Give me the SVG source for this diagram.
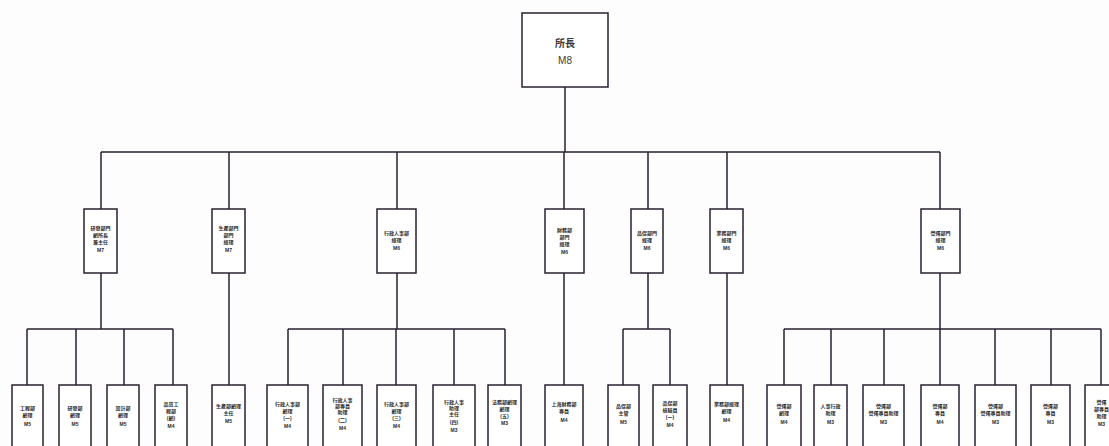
<svg xmlns="http://www.w3.org/2000/svg" width="1109" height="446" viewBox="0 0 1109 446">
<style>
.bx{fill:#fff;stroke:#2a2030;stroke-width:1.5}
.ln{stroke:#2a2030;stroke-width:1.5;fill:none}
.t{font-family:"Liberation Sans","Noto Sans CJK TC",sans-serif;font-size:5px;font-weight:bold;fill:#2a2a2a;text-anchor:middle}
.tt{font-family:"Liberation Sans","Noto Sans CJK TC",sans-serif;font-size:10px;fill:#3a3a3a;text-anchor:middle}
</style>
<rect width="1109" height="446" fill="#fdfdfd"/>
<g id="connectors" class="ln">
<path d="M565,87V152M101,152H940M101,152V209M229,152V209M397,152V209M564,152V209M648,152V209M727,152V209M940,152V209"/>
<path d="M101,273V329M27,329H173M27,329V385M76,329V385M124,329V385M173,329V385"/>
<path d="M229,273V385"/>
<path d="M397,273V329M288,329H505M288,329V385M343,329V385M396,329V385M454,329V385M505,329V385"/>
<path d="M564,273V385"/>
<path d="M648,273V329M623,329H670M623,329V385M670,329V385"/>
<path d="M727,273V385"/>
<path d="M940,273V329M784,329H1101M784,329V385M831,329V385M884,329V385M940,329V385M995,329V385M1051,329V385M1101,329V385"/>
</g>
<g id="n0"><rect class="bx" x="522" y="13" width="86" height="74"/><text class="tt" x="565" y="47" font-weight="bold">所長</text><text class="tt" x="565" y="64">M8</text></g>
<g id="n1"><rect class="bx" x="84" y="209" width="33" height="64"/><text class="t" x="100.5" y="230"><tspan x="100.5">研發部門</tspan><tspan x="100.5" dy="7">副所長</tspan><tspan x="100.5" dy="7">兼主任</tspan><tspan x="100.5" dy="8">M7</tspan></text></g>
<g id="n2"><rect class="bx" x="212" y="209" width="33" height="64"/><text class="t" x="228.5" y="230"><tspan x="228.5">生產部門</tspan><tspan x="228.5" dy="7">部門</tspan><tspan x="228.5" dy="7">經理</tspan><tspan x="228.5" dy="8">M7</tspan></text></g>
<g id="n3"><rect class="bx" x="377" y="209" width="39" height="64"/><text class="t" x="396.5" y="235"><tspan x="396.5">行政人事部</tspan><tspan x="396.5" dy="7">經理</tspan><tspan x="396.5" dy="8">M6</tspan></text></g>
<g id="n4"><rect class="bx" x="545" y="209" width="39" height="64"/><text class="t" x="564.5" y="232"><tspan x="564.5">財務部</tspan><tspan x="564.5" dy="7">部門</tspan><tspan x="564.5" dy="7">經理</tspan><tspan x="564.5" dy="8">M6</tspan></text></g>
<g id="n5"><rect class="bx" x="631" y="209" width="32" height="64"/><text class="t" x="647" y="235"><tspan x="647">品保部門</tspan><tspan x="647" dy="7">經理</tspan><tspan x="647" dy="8">M6</tspan></text></g>
<g id="n6"><rect class="bx" x="710" y="209" width="33" height="64"/><text class="t" x="726.5" y="235"><tspan x="726.5">業務部門</tspan><tspan x="726.5" dy="7">經理</tspan><tspan x="726.5" dy="8">M6</tspan></text></g>
<g id="n7"><rect class="bx" x="921" y="209" width="39" height="64"/><text class="t" x="940.5" y="235"><tspan x="940.5">營運部門</tspan><tspan x="940.5" dy="7">經理</tspan><tspan x="940.5" dy="8">M6</tspan></text></g>
<g id="c1"><rect class="bx" x="12" y="385" width="31" height="75"/><text class="t" x="27.5" y="410"><tspan x="27.5">工程部</tspan><tspan x="27.5" dy="7">副理</tspan><tspan x="27.5" dy="9">M5</tspan></text></g>
<g id="c2"><rect class="bx" x="59" y="385" width="32" height="75"/><text class="t" x="75" y="410"><tspan x="75">研發部</tspan><tspan x="75" dy="7">副理</tspan><tspan x="75" dy="9">M5</tspan></text></g>
<g id="c3"><rect class="bx" x="107" y="385" width="32" height="75"/><text class="t" x="123" y="410"><tspan x="123">設計部</tspan><tspan x="123" dy="7">副理</tspan><tspan x="123" dy="9">M5</tspan></text></g>
<g id="c4"><rect class="bx" x="155" y="385" width="32" height="75"/><text class="t" x="171" y="406"><tspan x="171">品質工</tspan><tspan x="171" dy="7">程部</tspan><tspan x="171" dy="7">(副)</tspan><tspan x="171" dy="8">M4</tspan></text></g>
<g id="c5"><rect class="bx" x="212" y="385" width="33" height="75"/><text class="t" x="228.5" y="408"><tspan x="228.5">生產部副理</tspan><tspan x="228.5" dy="7">主任</tspan><tspan x="228.5" dy="8">M5</tspan></text></g>
<g id="c6"><rect class="bx" x="267" y="385" width="41" height="75"/><text class="t" x="287.5" y="406"><tspan x="287.5">行政人事部</tspan><tspan x="287.5" dy="7">副理</tspan><tspan x="287.5" dy="7">(一)</tspan><tspan x="287.5" dy="8">M4</tspan></text></g>
<g id="c7"><rect class="bx" x="323" y="385" width="39" height="75"/><text class="t" x="342.5" y="402"><tspan x="342.5">行政人事</tspan><tspan x="342.5" dy="6">部專員</tspan><tspan x="342.5" dy="6">助理</tspan><tspan x="342.5" dy="8">(二)</tspan><tspan x="342.5" dy="8">M4</tspan></text></g>
<g id="c8"><rect class="bx" x="377" y="385" width="39" height="75"/><text class="t" x="396.5" y="406"><tspan x="396.5">行政人事部</tspan><tspan x="396.5" dy="7">副理</tspan><tspan x="396.5" dy="7">(三)</tspan><tspan x="396.5" dy="8">M4</tspan></text></g>
<g id="c9"><rect class="bx" x="433" y="385" width="42" height="75"/><text class="t" x="454" y="404"><tspan x="454">行政人事</tspan><tspan x="454" dy="6">助理</tspan><tspan x="454" dy="6">主任</tspan><tspan x="454" dy="8">(四)</tspan><tspan x="454" dy="8">M3</tspan></text></g>
<g id="c10"><rect class="bx" x="488" y="385" width="33" height="75"/><text class="t" x="504.5" y="404"><tspan x="504.5">法務部副理</tspan><tspan x="504.5" dy="7">副理</tspan><tspan x="504.5" dy="7">(五)</tspan><tspan x="504.5" dy="7">M3</tspan></text></g>
<g id="c11"><rect class="bx" x="545" y="385" width="38" height="75"/><text class="t" x="564" y="406"><tspan x="564">上海財務部</tspan><tspan x="564" dy="7">專員</tspan><tspan x="564" dy="9">M4</tspan></text></g>
<g id="c12"><rect class="bx" x="608" y="385" width="31" height="75"/><text class="t" x="623.5" y="408"><tspan x="623.5">品保部</tspan><tspan x="623.5" dy="7">主管</tspan><tspan x="623.5" dy="9">M5</tspan></text></g>
<g id="c13"><rect class="bx" x="653" y="385" width="34" height="75"/><text class="t" x="670" y="405"><tspan x="670">品保部</tspan><tspan x="670" dy="7">檢驗員</tspan><tspan x="670" dy="7">(一)</tspan><tspan x="670" dy="8">M4</tspan></text></g>
<g id="c14"><rect class="bx" x="710" y="385" width="33" height="75"/><text class="t" x="726.5" y="406"><tspan x="726.5">業務部經理</tspan><tspan x="726.5" dy="7">副理</tspan><tspan x="726.5" dy="9">M4</tspan></text></g>
<g id="c15"><rect class="bx" x="767" y="385" width="34" height="75"/><text class="t" x="784" y="408"><tspan x="784">營運部</tspan><tspan x="784" dy="7">副理</tspan><tspan x="784" dy="9">M4</tspan></text></g>
<g id="c16"><rect class="bx" x="814" y="385" width="33" height="75"/><text class="t" x="830.5" y="408"><tspan x="830.5">人事行政</tspan><tspan x="830.5" dy="7">助理</tspan><tspan x="830.5" dy="9">M3</tspan></text></g>
<g id="c17"><rect class="bx" x="863" y="385" width="41" height="75"/><text class="t" x="883.5" y="408"><tspan x="883.5">營運部</tspan><tspan x="883.5" dy="7">營運專員助理</tspan><tspan x="883.5" dy="9">M3</tspan></text></g>
<g id="c18"><rect class="bx" x="921" y="385" width="38" height="75"/><text class="t" x="940" y="408"><tspan x="940">營運部</tspan><tspan x="940" dy="7">專員</tspan><tspan x="940" dy="9">M4</tspan></text></g>
<g id="c19"><rect class="bx" x="975" y="385" width="41" height="75"/><text class="t" x="995.5" y="408"><tspan x="995.5">營運部</tspan><tspan x="995.5" dy="7">營運專員助理</tspan><tspan x="995.5" dy="9">M3</tspan></text></g>
<g id="c20"><rect class="bx" x="1031" y="385" width="39" height="75"/><text class="t" x="1050.5" y="408"><tspan x="1050.5">營運部</tspan><tspan x="1050.5" dy="7">專員</tspan><tspan x="1050.5" dy="9">M3</tspan></text></g>
<g id="c21"><rect class="bx" x="1085" y="385" width="33" height="75"/><text class="t" x="1101.5" y="404"><tspan x="1101.5">營運</tspan><tspan x="1101.5" dy="7">部專員</tspan><tspan x="1101.5" dy="7">助理</tspan><tspan x="1101.5" dy="8">M3</tspan></text></g>
</svg>
